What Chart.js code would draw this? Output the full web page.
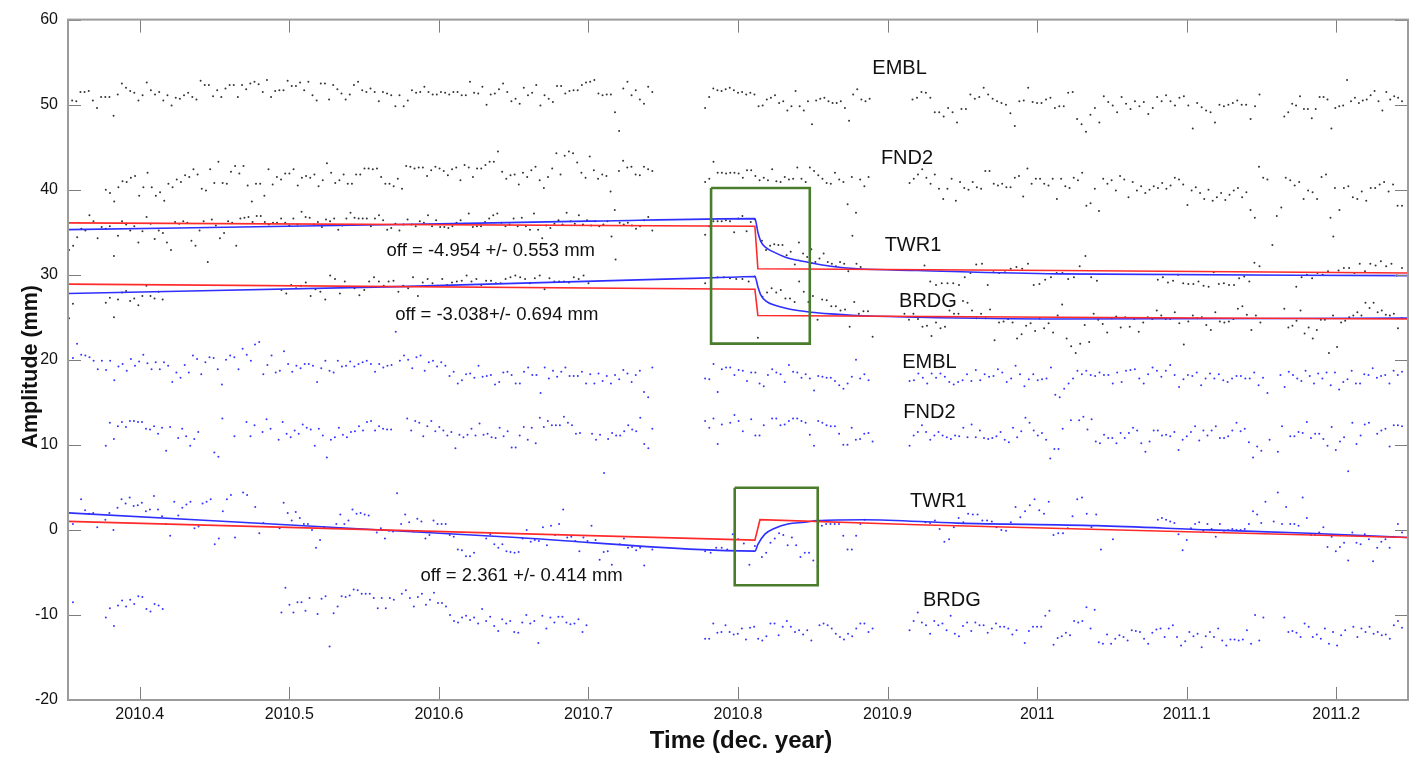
<!DOCTYPE html>
<html>
<head>
<meta charset="utf-8">
<title>Offsets - GPS amplitude time series</title>
<script src="https://cdn.jsdelivr.net/npm/chart.js@4.4.1/dist/chart.umd.min.js"></script>
<style>
  html, body { margin: 0; padding: 0; background: #fff; }
  #wrap { width: 1416px; height: 759px; position: relative; }
</style>
</head>
<body>
<div id="wrap"><canvas id="chart"></canvas></div>
<script>
'use strict';

/* ---- AXES ------------------------------------------------- */
const xTicks = [2010.4, 2010.5, 2010.6, 2010.7, 2010.8, 2010.9, 2011.0, 2011.1, 2011.2];
const xTickLabels = ['2010.4', '2010.5', '2010.6', '2010.7', '2010.8', '2010.9', '2011', '2011.1', '2011.2'];
const yTicks = [-20, -10, 0, 10, 20, 30, 40, 50, 60];

/* ---- DAILY SOLUTIONS: [from, to, values] per data block ---- */
// upper group (black)
const emblBlack = [
  [2010.352, 2010.7427, [50.0, 50.5, 50.4, 51.5, 51.5, 51.6, 50.5, 49.6, 50.9, 50.9, 50.9, 48.7, 51.2, 52.5, 52.0, 51.6, 51.4, 50.5, 51.1, 52.6, 51.7, 51.2, 51.5, 50.5, 51.1, 49.9, 50.8, 50.7, 51.1, 51.4, 50.9, 50.6, 52.8, 52.3, 52.3, 51.0, 51.7, 50.9, 51.9, 52.3, 52.3, 50.9, 52.3, 51.8, 52.5, 52.7, 52.4, 51.5, 52.9, 50.9, 51.6, 51.7, 51.7, 52.8, 52.2, 52.2, 52.6, 51.7, 52.7, 51.1, 50.5, 52.5, 52.5, 50.6, 52.3, 51.8, 51.3, 50.6, 51.2, 52.3, 52.7, 51.7, 51.5, 51.9, 51.5, 50.4, 51.5, 51.3, 51.1, 49.8,
    51.1, 49.8, 50.5, 51.7, 51.4, 51.5, 52.1, 51.5, 51.2, 51.2, 51.5, 51.4, 51.2, 51.5, 51.5, 51.1, 51.1, 52.7, 51.4, 51.3, 52.1, 50.0, 51.2, 51.3, 51.8, 52.5, 51.5, 50.4, 50.7, 50.1, 52.0, 51.1, 51.4, 52.3, 49.9, 51.1, 50.7, 50.3, 52.2, 52.2, 51.3, 51.6, 51.7, 51.7, 52.3, 52.6, 52.7, 52.9, 51.3, 51.1, 51.2, 51.2, 49.1, 46.9, 51.9, 52.7, 51.1, 51.7, 50.6, 50.1, 52.1, 51.5]],
  [2010.778, 2010.888, [49.6, 50.9, 51.9, 51.7, 51.6, 51.8, 52.0, 51.7, 51.4, 51.5, 51.2, 51.4, 51.2, 49.8, 49.9, 50.6, 50.8, 51.1, 50.2, 50.4, 49.3, 49.8, 51.6, 49.8, 49.3, 50.4, 47.7, 50.5, 50.7, 50.8, 50.4, 50.2, 50.2, 50.4, 49.6, 48.1, 51.2, 51.8, 50.6, 50.4, 50.7]],
  [2010.9167, 2011.1487, [50.6, 50.8, 51.5, 51.4, 50.8, 49.1, 49.1, 48.6, 49.6, 49.1, 47.9, 49.5, 49.5, 51.2, 50.7, 50.9, 52.0, 51.2, 50.7, 50.4, 50.2, 50.0, 49.0, 47.5, 50.4, 50.5, 52.0, 50.3, 50.2, 50.2, 50.6, 50.8, 49.6,
    49.8, 49.8, 51.4, 51.5, 48.3, 47.7, 46.8, 48.8, 49.6, 47.9, 51.0, 50.3, 49.9, 49.1, 50.9, 50.1, 49.5, 50.4, 49.8, 50.3, 48.9, 49.6, 50.9, 50.4, 51.1, 50.4, 49.9, 50.8, 51.0, 49.9, 47.2, 50.2, 49.7, 49.3, 49.1, 47.9, 50.0, 49.8, 50.0, 50.2, 50.5, 50.0, 50.0, 48.3, 49.8, 51.2]],
  [2011.1653, 2011.244, [48.6, 49.1, 50.1, 49.9, 51.0, 49.5, 49.5, 48.4, 49.5, 50.9, 50.9, 50.6, 47.2, 49.6, 49.8, 49.9, 52.9, 50.4, 50.8, 50.2, 50.5, 50.6, 51.1, 51.6, 50.4, 49.3, 51.5, 50.6, 51.0, 50.8, 50.4]]
];
const fnd2Black = [
  [2010.3773, 2010.7427, [40.0, 39.6, 38.6, 40.3, 41.0, 40.9, 41.4, 41.6, 39.3, 40.3, 42.0, 40.3, 39.3, 39.7, 38.7, 40.7, 40.3, 41.2, 40.9, 41.7, 41.5, 42.4, 41.8, 40.1, 39.9, 42.4, 40.8, 43.3, 40.8, 40.7, 42.1, 42.8, 41.9, 42.8, 40.5, 38.6, 40.7, 40.7, 39.3, 42.4, 40.6, 41.5, 41.2, 41.9, 41.9, 42.4, 40.5, 41.4, 41.6, 41.4, 41.8, 40.4, 41.1, 43.1, 42.0, 40.8, 41.1, 41.8, 40.7, 40.7, 41.8, 41.8, 42.5, 42.5, 42.4, 42.5, 41.5, 40.7, 40.7, 40.4, 41.3, 40.1, 42.8,
    42.7, 42.5, 42.6, 42.6, 41.6, 42.3, 42.7, 42.5, 42.2, 41.7, 42.4, 42.6, 41.1, 42.9, 42.6, 41.5, 42.5, 42.5, 42.9, 43.3, 43.3, 44.5, 42.1, 41.3, 41.7, 41.8, 40.6, 42.0, 41.5, 42.3, 42.7, 41.1, 40.2, 41.5, 42.5, 44.3, 41.8, 44.0, 44.5, 44.3, 43.2, 42.0, 41.4, 43.9, 42.3, 41.3, 41.8, 41.6, 39.8, 37.6, 42.2, 43.4, 42.6, 42.7, 41.8, 41.7, 42.7, 42.4, 42.2]],
  [2010.778, 2010.8873, [40.9, 41.3, 43.3, 42.0, 42.0, 41.9, 42.0, 42.0, 41.9, 41.4, 42.3, 42.3, 41.6, 41.1, 41.4, 41.1, 42.4, 41.0, 40.9, 41.5, 41.2, 41.3, 42.6, 41.3, 40.9, 42.6, 42.2, 41.7, 41.3, 40.8, 40.7, 42.0, 41.2, 40.9, 38.3, 41.5, 37.3, 41.2, 40.4, 41.5]],
  [2010.9147, 2011.154, [40.8, 41.3, 41.8, 42.4, 41.4, 40.7, 41.8, 40.1, 38.9, 40.1, 41.3, 38.7, 40.9, 40.2, 40.0, 40.9, 40.3, 40.1, 42.2, 42.2, 40.7, 40.5, 40.7, 40.3, 40.3, 41.4, 41.6, 39.2, 42.5, 40.7, 41.3, 41.3, 40.7, 40.5, 41.3, 38.9, 41.3,
    40.4, 40.2, 41.4, 41.1, 42.0, 38.1, 38.4, 40.1, 37.5, 41.3, 40.7, 41.1, 39.9, 41.6, 41.2, 39.1, 40.9, 39.9, 40.4, 39.6, 40.0, 40.4, 40.2, 40.8, 40.1, 40.5, 41.4, 41.2, 40.6, 38.2, 39.9, 40.3, 39.6, 38.9, 40.0, 38.7, 39.1, 39.6, 38.8, 39.4, 39.9, 40.2, 39.1, 39.7, 37.6, 36.7, 42.7, 41.4, 41.2]],
  [2011.1573, 2011.244, [33.5, 36.9, 37.9, 41.4, 41.1, 40.5, 40.9, 38.9, 39.9, 39.7, 38.9, 41.5, 41.8, 36.7, 40.2, 37.6, 40.2, 40.4, 39.1, 38.9, 39.8, 38.7, 40.2, 40.2, 40.6, 40.9, 39.8, 40.6, 38.1, 38.1]]
];
const twr1Black = [
  [2010.3527, 2010.7427, [32.9, 33.4, 34.4, 35.4, 35.2, 37.0, 36.3, 34.3, 35.6, 35.4, 35.7, 32.2, 34.6, 36.3, 35.9, 35.2, 35.7, 33.8, 35.1, 36.8, 36.0, 34.2, 35.2, 34.9, 33.8, 32.9, 36.2, 36.0, 36.3, 36.1, 34.0, 33.4, 35.2, 36.3, 31.5, 36.5, 35.8, 34.3, 34.9, 36.3, 36.1, 33.4, 36.6, 36.7, 36.8, 36.2, 36.9, 36.9, 36.2, 35.9, 36.1, 36.1, 36.6, 36.1, 35.8, 36.6, 35.9, 37.4, 36.8, 36.7, 35.9, 36.2, 35.6, 36.5, 36.3, 36.6, 35.3, 35.8, 36.6, 37.3, 36.7, 36.6, 36.6, 36.6, 35.7, 36.6, 37.0, 36.4, 35.3,
    35.5, 36.0, 35.2, 35.9, 36.5, 35.9, 35.7, 36.3, 36.1, 37.0, 35.7, 36.4, 35.6, 35.6, 35.5, 35.7, 36.1, 36.4, 36.0, 37.2, 35.6, 35.7, 35.7, 36.2, 36.6, 37.0, 37.2, 36.1, 35.7, 35.9, 36.6, 35.7, 36.7, 35.7, 35.3, 37.2, 35.3, 34.3, 35.8, 35.5, 36.0, 36.4, 35.9, 37.3, 36.3, 36.0, 37.0, 35.9, 36.4, 35.8, 36.3, 35.7, 35.9, 36.3, 34.5, 31.8, 36.1, 35.9, 36.1, 35.8, 35.4, 35.7, 36.4, 36.8, 35.2]],
  [2010.778, 2010.8113, [34.7, 35.7, 36.3, 36.3, 36.3, 36.4, 36.3, 35.0, 36.6, 36.9, 35.1, 36.2, 36.5]],
  [2010.816, 2010.882, [34.0, 32.9, 33.4, 33.6, 33.5, 33.5, 32.3, 32.7, 31.2, 33.8, 32.5, 32.1, 33.0, 31.5, 31.9, 32.5, 31.5, 31.3, 31.0, 31.5, 31.3, 30.4, 34.6, 31.3, 30.9]],
  [2010.9247, 2011.04, [31.1, 29.2, 28.8, 29.0, 29.0, 29.0, 28.8, 29.7, 30.2, 31.2, 31.3, 28.8, 30.3, 30.2, 30.3, 30.7, 30.9, 30.7, 31.3, 28.8, 28.9, 29.4, 29.7, 30.2, 30.2, 29.5, 29.7, 31.0, 32.2, 29.7, 29.3]],
  [2011.0807, 2011.1487, [29.4, 29.7, 29.1, 29.3, 30.0, 29.0, 28.9, 28.9, 29.2, 28.7, 28.6, 30.3, 28.9, 29.0, 28.8, 28.8, 29.6, 29.8, 29.2, 31.4, 31.0]],
  [2011.1733, 2011.244, [28.6, 29.7, 30.0, 29.6, 30.2, 30.0, 30.4, 34.5, 30.5, 30.8, 30.8, 30.2, 31.3, 30.4, 31.3, 31.1, 31.6, 31.0, 31.3, 29.9, 30.8]]
];
const brdgBlack = [
  [2010.3527, 2010.3553, [24.9, 26.6]],
  [2010.3773, 2010.4153, [26.7, 27.3, 25.0, 27.1, 27.9, 28.1, 26.9, 27.2, 26.4, 27.5, 28.7, 27.5, 27.2, 28.0, 27.1]],
  [2010.4947, 2010.7, [28.2, 27.8, 28.8, 28.4, 28.7, 29.1, 27.5, 28.3, 28.0, 27.1, 29.9, 29.5, 27.8, 29.2, 28.6, 28.4, 27.6, 28.2, 29.2, 29.7, 29.2, 28.7, 29.2, 29.3, 28.0, 28.7, 28.4, 29.7, 27.5, 29.1, 29.5, 29.0, 28.7, 29.5, 28.8, 29.1, 29.2, 29.3, 29.9, 29.2, 29.5, 28.8, 29.3, 29.3, 29.0, 29.0, 29.5, 29.7, 29.9, 29.7, 29.5, 29.0, 29.6, 29.9, 28.3, 29.6, 29.2, 29.2, 29.2, 29.1, 29.7, 29.5, 29.9, 29.0]],
  [2010.778, 2010.8113, [29.0, 29.6, 29.7, 29.7, 29.6, 29.5, 29.5, 29.2, 29.8]],
  [2010.8133, 2010.89, [22.6, 27.4, 27.9, 28.4, 27.9, 28.2, 27.2, 27.2, 26.8, 29.2, 28.0, 26.8, 27.5, 24.7, 27.1, 27.0, 26.3, 26.3, 25.8, 25.9, 23.9, 26.8, 25.4, 25.7, 25.7, 22.7]],
  [2010.9113, 2011.1493, [25.4, 24.7, 25.4, 24.8, 23.9, 24.0, 22.8, 24.4, 23.7, 23.9, 25.8, 25.4, 25.4, 26.9, 26.7, 25.8, 24.9, 25.4, 24.9, 25.9, 22.3, 24.4, 24.5, 24.8, 24.4, 22.5, 23.0, 24.0, 24.3, 23.4, 24.9, 23.7, 24.3, 23.2, 25.2, 26.5, 22.5, 21.6, 20.8, 21.9, 24.1, 22.1, 25.4, 24.7, 24.2, 23.2, 24.9, 25.1, 23.8, 25.0, 23.9, 24.8, 23.3, 24.4, 25.0, 24.8, 25.8, 25.2, 24.8, 24.8, 25.6, 24.3, 21.8, 24.5, 25.2, 24.9, 25.0, 24.1, 23.5, 25.6, 24.5, 24.4, 24.5, 24.8, 26.0, 26.3, 25.3, 23.5, 25.2, 24.4]],
  [2011.1653, 2011.244, [26.0, 23.8, 24.0, 24.6, 25.8, 23.1, 23.8, 22.5, 23.5, 24.7, 24.7, 20.8, 25.2, 21.5, 24.4, 24.6, 25.0, 25.2, 25.6, 25.2, 26.7, 26.1, 26.7, 25.6, 25.8, 25.3, 25.2, 25.4, 23.7, 24.9]]
];

// lower group (blue)
const emblBlue = [
  [2010.3553, 2010.7427, [20.2, 21.9, 20.6, 20.5, 20.3, 19.9, 18.9, 19.9, 18.8, 19.9, 17.6, 19.2, 19.5, 18.7, 20.1, 19.3, 19.8, 20.6, 19.6, 18.9, 19.7, 18.9, 19.7, 19.3, 17.4, 18.5, 17.9, 19.4, 18.5, 20.5, 20.1, 18.3, 19.7, 20.3, 20.2, 18.9, 17.1, 20.0, 20.5, 20.3, 18.9, 21.3, 20.6, 19.9, 21.8, 22.1, 18.3, 19.4, 20.5, 18.5, 18.7, 21.0, 19.5, 18.6, 19.3, 19.0, 19.5, 19.5, 19.3, 17.4, 19.0, 19.9, 18.7, 18.5, 19.9, 19.2, 19.3, 19.8, 19.2, 19.5, 19.7, 19.9, 19.5, 18.6, 19.5, 19.1, 19.3, 19.4, 23.3, 19.9, 20.5, 20.0, 19.0, 20.3, 20.5, 18.7, 19.7, 19.9, 19.2, 19.7, 19.3, 18.1, 18.6, 17.2, 17.6, 18.3, 18.4, 17.9, 19.3, 18.0, 18.1, 18.2, 17.1, 17.4, 18.5, 18.6, 18.2, 17.2,
    17.2, 18.6, 19.1, 18.2, 18.2, 16.1, 19.1, 17.8, 18.7, 18.0, 18.6, 19.1, 18.1, 18.1, 18.1, 18.6, 17.2, 18.3, 17.2, 18.4, 17.5, 18.1, 17.2, 18.2, 17.7, 18.8, 18.4, 17.4, 18.2, 18.7, 16.2, 15.6, 19.1]],
  [2010.778, 2010.8873, [17.8, 17.7, 19.5, 16.2, 18.9, 19.1, 19.1, 18.2, 18.8, 18.7, 17.5, 18.5, 18.5, 17.2, 16.9, 18.2, 18.9, 18.5, 18.3, 17.4, 19.4, 18.6, 18.5, 17.9, 18.3, 17.8, 16.4, 18.1, 18.0, 17.9, 17.9, 17.5, 17.0, 16.6, 17.2, 18.0, 20.0, 17.8, 18.3, 17.6]],
  [2010.9147, 2011.154, [17.5, 17.6, 18.4, 17.9, 17.2, 18.4, 17.9, 18.4, 18.0, 17.4, 17.1, 17.4, 17.6, 18.3, 17.5, 18.8, 17.6, 18.3, 18.0, 18.1, 18.9, 18.5, 17.4, 17.8, 19.3, 18.3, 16.9, 17.7, 18.3, 17.6, 17.7, 17.8, 19.1, 15.9, 15.6, 16.6, 17.2, 17.8, 18.7, 18.3, 18.7, 18.2, 18.1, 18.5, 18.2, 18.2, 17.2, 18.5, 17.4, 18.7, 18.8, 18.9, 17.8, 17.2, 18.3, 19.1, 18.7, 18.0, 18.7, 19.4, 18.2, 16.8, 17.7, 18.2, 18.1, 18.5, 17.0, 17.8, 18.4, 17.8, 18.3, 17.6, 17.4, 17.8, 18.1, 18.1, 17.8, 17.8, 18.5, 17.0, 17.9, 16.1]],
  [2011.1627, 2011.244, [18.2, 16.8, 18.6, 18.2, 17.8, 17.5, 18.7, 18.1, 17.2, 18.4, 17.8, 18.5, 17.0, 18.5, 16.5, 17.4, 17.7, 18.7, 17.2, 17.2, 18.3, 18.2, 19.0, 17.9, 18.1, 18.2, 17.2, 18.7, 18.2, 18.6]]
];
const fnd2Blue = [
  [2010.3773, 2010.7427, [9.9, 12.6, 10.7, 12.2, 12.7, 12.1, 12.8, 12.8, 12.7, 12.7, 11.9, 11.8, 12.2, 11.3, 12.0, 9.3, 12.1, null, 10.8, 11.9, 11.0, 9.9, 10.7, 11.5, null, null, null, 9.1, 8.6, 13.1, null, null, 11.0, null, null, 12.7, 11.0, 12.3, null, 11.5, 13.0, 11.9, null, 10.6, 12.7, 11.3, 10.9, 11.7, 11.3, 12.4, 12.0, 11.8, 9.9, 11.9, 11.1, 8.5, 10.6, 10.9, 12.0, 11.2, 10.9, 11.5, 11.6, 12.2, 11.7, 12.7, 12.8, 11.7, 12.2, 11.9, 11.8, 11.8, null, null, null, 13.1, 11.7, 12.8, 12.6, 11.0, 12.2, 12.8, 11.6, 12.1, 11.7, 11.1, 11.5, 9.6, 11.2, 10.9, 11.2, 11.9, 11.1, 12.5, 11.2, 11.3, 10.9, 10.8, 12.0, 11.0, 11.6, 9.7,
    9.7, 11.1, 12.1, 10.6, 12.0, 10.2, 13.2, 12.1, 12.8, 12.3, 12.3, 12.3, 13.3, 12.6, 12.3, 11.3, 11.4, null, null, 11.3, 10.6, 11.2, 6.7, 10.7, 11.4, 11.1, 11.1, 11.6, 12.3, 11.8, 11.6, 13.2, 10.1, 9.6, 11.9]],
  [2010.778, 2010.89, [12.8, 12.0, 13.1, 10.1, 12.4, null, 12.6, 13.5, 12.8, 11.6, null, 13.0, 11.1, 11.1, 12.3, null, 13.1, 13.1, 12.3, 12.4, 12.8, 13.1, 13.1, 12.8, 12.6, 11.2, 9.9, 12.8, 12.6, 12.3, 12.2, 12.2, 11.3, 10.0, 10.0, 12.0, 10.6, 10.7, 11.3, 11.4, 10.4]],
  [2010.9147, 2011.244, [9.9, 11.1, 11.5, 12.3, 11.5, 10.6, 11.1, 11.5, 11.1, 10.9, 10.7, 11.1, 11.0, 12.0, 10.9, 12.4, 10.9, 11.7, 10.8, 10.7, 10.8, 11.0, 11.5, 10.6, 10.3, 12.0, 10.9, 11.6, 13.2, 12.6, 11.7, 11.1, 11.4, 10.6, 8.4, 9.5, 9.5, 11.9, null, 12.9, null, 12.9, 13.3, 11.8, 13.0, 10.4, 10.2, 11.2, 10.8, 10.8, 10.2, 11.4, 10.8, 11.4, 12.0, 11.7, 10.2, 9.2, 10.4, 11.7, 11.7, 11.1, 11.2, 11.0, 11.5, 9.4, 10.6, 11.0, 11.5, 12.2, 10.5, 11.7, 11.1, 11.7, 12.2, 10.8, 10.8, 11.0, 11.7, 12.6, 11.6, 11.9, 10.3, 8.5, 9.8, 9.3, null, 10.6, null, 9.2, 12.2, null, 11.0, 11.0, 11.5, 11.4, 12.7, 10.8, 11.3, 11.3, 10.7, 9.9, 12.1, 9.4, 10.4, 10.9, 6.9, 12.6, 10.1, 11.1, 12.4, 12.6, null, 11.3, 11.7, 11.9, 9.8, 12.3, 12.3, 12.2]]
];
const twr1Blue = [
  [2010.3553, 2010.7427, [0.7, null, 3.6, 2.3, 1.9, 2.0, 0.3, null, 1.2, 2.0, 0.0, 2.6, 3.6, 3.1, 3.8, 2.8, 2.9, 3.2, 2.2, 2.4, 4.0, 2.4, 1.6, 0.7, -0.7, 3.3, 1.7, 2.6, 3.0, 3.3, 0.2, 0.4, 3.1, 3.3, 3.6, -1.7, -1.0, 2.2, 3.6, 4.1, -0.9, null, 4.4, 4.1, null, 2.7, -0.4, 0.8, null, null, null, 0.2, 3.2, 2.0, 1.1, 2.1, 1.4, 0.7, 0.7, 0.0, -2.1, -1.2, 0.3, null, 0.2, 0.7, 1.8, 0.7, 1.1, 2.4, 1.9, 2.0, 1.8, 1.7, null, -0.3, 0.2, -1.0, -0.1, -0.2, 4.3, 0.7, 1.8, 0.9, -0.2, 1.3, 1.0, -1.0, -0.6, 1.1, 0.7, 0.7, 0.7, -0.6, -0.8, -2.3, -2.4, -3.1, -3.1, -2.7, null, null, -1.0, -0.5, -1.7, -2.1, -1.7, -2.5, -2.6, -2.7,
    -2.6, -1.0, 0.0, -1.4, -1.2, -1.3, 0.3, -1.8, 0.5, -0.6, 0.7, 2.4, -0.9, -0.8, -1.3, -2.5, -0.9, -1.3, 0.5, -1.2, -3.5, -2.6, -2.5, -4.1, null, -1.7, -1.0, -2.1, -2.0, -2.4, -2.1, -4.2, null, -2.3]],
  [2010.778, 2010.8113, [-2.5, -2.7, -2.1, -2.1, -2.3, -0.5, -1.1, -1.6, -4.1, -1.9]],
  [2010.816, 2010.8847, [-3.2, -2.7, -1.5, -1.0, -0.4, -0.6, -1.8, -0.9, -1.8, -3.2, -2.7, -2.7, -3.6, -4.3, 0.5, 0.7, 0.7, 0.7, 0.7, -0.7, -2.3, -2.3, -0.7, 0.7, 1.2]],
  [2010.9253, 2011.0427, [0.9, 0.8, 1.1, 0.1, -1.4, -1.1, 0.3, 1.4, 0.9, 1.9, 1.8, 1.8, 1.1, 1.1, 1.0, 0.3, 0.0, -0.1, 0.9, 2.7, 1.5, 2.2, 2.9, 3.6, 2.3, 1.9, 3.3, -0.6, -0.4, -0.4, 0.2, 1.6, 3.6, 3.8, 1.9, 0.3, 1.8, -2.3]],
  [2011.0507, 2011.0507, [-1.1]],
  [2011.0807, 2011.244, [1.2, 1.4, 1.2, 1.0, 0.8, -0.5, -2.4, -1.2, 0.2, 0.7, 0.9, -0.1, 0.7, 0.1, -0.8, 0.7, -0.1, 0.0, 0.1, 0.0, 0.0, 0.1, 0.7, 2.2, 1.8, 0.8, 3.3, null, 1.0, 4.4, 0.7, 2.7, 0.7, 0.7, 0.5, 3.8, 1.4, -0.6, -0.6, -0.3, 0.3, -2.0, -0.8, -2.5, -2.0, -1.5, -3.6, -0.3, -1.5, -1.7, -0.5, -1.1, -3.7, -2.1, -1.4, -1.1, -2.1, -0.8, 0.7, -0.3]]
];
const brdgBlue = [
  [2010.352, 2010.3553, [-8.4, -8.5]],
  [2010.3773, 2010.4153, [-10.3, -9.2, -11.3, -8.9, -8.3, -9.0, -8.2, -8.7, -7.8, -7.9, -9.3, -9.6, -8.7, -8.9, -9.3]],
  [2010.4947, 2010.6987, [-9.7, -6.8, -8.8, -9.7, -8.5, -8.5, -9.5, -8.0, null, -9.9, -8.1, -7.8, -13.7, -9.8, -9.0, -7.8, -7.9, -7.7, -7.0, -7.1, -7.5, -7.5, -7.5, -8.0, -9.2, -8.0, -9.2, -8.0, -8.2, null, -7.5, -7.1, -8.0, -9.0, -7.9, -7.5, -8.8, -8.2, -7.4, -8.6, -8.6, -9.0, -10.0, -10.7, -10.9, -10.3, -10.1, -10.6, -10.3, -11.0, -9.3, -10.7, -10.2, -11.3, -11.9, -10.5, -11.0, -10.7, -12.0,
    -12.1, -10.9, -10.0, -11.0, -10.7, -13.3, -10.1, -11.6, -10.3, -10.9, -10.2, -10.2, -10.9, -11.1, -11.0, -10.5, -12.0, -11.2]],
  [2010.778, 2010.89, [-12.8, -12.8, -11.0, -12.1, -12.0, -11.2, -12.0, -12.3, -12.2, -11.6, -12.9, -11.5, -11.4, -12.8, -13.0, -12.5, -11.0, -11.0, -12.4, -11.4, -10.7, -11.4, -12.0, -11.8, -12.3, -11.8, -13.0, null, -11.2, -11.0, -11.2, -11.6, -12.2, -12.6, -12.9, -12.2, -12.5, -11.6, -11.0, -11.0, -12.0, -11.6]],
  [2010.9147, 2011.1513, [-11.8, -10.7, -9.7, -10.9, -11.2, -12.2, -10.7, -11.2, -11.0, -11.8, -10.1, -12.2, -12.5, -11.3, -10.9, -11.9, -10.9, -11.2, -11.2, -12.1, -11.6, -11.0, -11.4, -11.4, -11.6, -12.3, -11.8, null, -13.3, -11.9, -11.4, -11.4, -11.4, -10.1, -9.5, -13.5, -12.7, -12.5, -12.1, -12.4, -10.7, -10.9, -10.7, -9.1, -11.6, -9.4, -13.2, -13.4, -12.3, -13.4, -12.8, -12.4, -12.6, -13.0, -11.8, -11.9, -12.0, -12.8, -13.4, -12.1, -11.7, -11.6, -12.6, -11.6, -11.2, -12.6, -13.6, -13.1, -12.0, -12.5, -12.2, -13.8, -12.5, -12.0, -12.6, -11.6, -13.0, -13.6, -12.9, -12.9, -13.0, -12.9, -11.8, -13.4, -10.0, -13.0, -10.3]],
  [2011.1653, 2011.244, [-10.3, -12.0, -11.9, -12.1, -12.6, -11.0, -11.4, -12.6, -12.3, -12.8, -11.6, -13.4, -12.0, -13.6, -12.4, -11.8, null, -11.4, -12.6, -11.6, -12.0, -11.4, -12.2, -12.0, -12.4, -12.3, -12.8, -11.2, -10.7, -11.5]]
];

/* ---- OFFSET MODELS: [year, mm] --------------------------- */
const twr1BlackStep = [[2010.352, 36.1], [2010.8113, 35.7], [2010.8133, 30.7], [2011.0133, 30.5], [2011.248, 30.2]];
const twr1BlackDecay = [[2010.352, 35.3], [2010.5733, 35.9], [2010.7, 36.3], [2010.8113, 36.6], [2010.8133, 35.0], [2010.8153, 33.9], [2010.8187, 33.2], [2010.8247, 32.6], [2010.8313, 32.1], [2010.84, 31.7], [2010.8487, 31.4], [2010.862, 31.0], [2010.88, 30.7], [2010.92, 30.5], [2011.0133, 30.1], [2011.248, 29.9]];
const brdgBlackStep = [[2010.352, 28.9], [2010.8113, 28.3], [2010.8133, 25.2], [2011.0133, 25.0], [2011.248, 24.8]];
const brdgBlackDecay = [[2010.352, 27.8], [2010.5733, 28.6], [2010.7933, 29.7], [2010.8113, 29.8], [2010.8133, 28.6], [2010.8153, 27.6], [2010.8187, 26.9], [2010.8247, 26.4], [2010.8313, 26.1], [2010.84, 25.8], [2010.8487, 25.6], [2010.862, 25.4], [2010.88, 25.2], [2010.92, 25.0], [2011.0133, 24.8], [2011.248, 24.9]];
const twr1BlueStep = [[2010.352, 1.0], [2010.8113, -1.2], [2010.8147, 1.2], [2010.92, 0.6], [2011.248, -0.9]];
const twr1BlueDecay = [[2010.352, 2.0], [2010.652, -0.9], [2010.8113, -2.5], [2010.8133, -1.7], [2010.818, -0.5], [2010.8247, 0.2], [2010.8333, 0.7], [2010.8447, 0.9], [2010.8533, 1.1], [2010.8847, 1.2], [2010.9467, 0.8], [2011.04, 0.5], [2011.1153, 0.0], [2011.182, -0.4], [2011.248, -0.9]];

/* ---- HIGHLIGHT BOXES: [fromYear, toYear, lowMm, highMm] --- */
const boxes = [[2010.782, 2010.848, 21.9, 40.2], [2010.7978, 2010.8533, -6.5, 4.95]];

/* ---- ANNOTATIONS ------------------------------------------ */
const stationNames = ['EMBL', 'FND2', 'TWR1', 'BRDG', 'EMBL', 'FND2', 'TWR1', 'BRDG'];
const stationX = [2010.908, 2010.913, 2010.917, 2010.927, 2010.928, 2010.928, 2010.934, 2010.943];
const stationY = [54.2, 43.7, 33.4, 26.9, 19.7, 13.8, 3.3, -8.3];
const offTexts = ['off = -4.954 +/- 0.553 mm', 'off = -3.038+/- 0.694 mm', 'off = 2.361 +/- 0.414 mm'];
const offX = [2010.6347, 2010.6387, 2010.6553];
const offY = [32.8, 25.3, -5.4];

const FONT = "'Liberation Sans', Arial, Helvetica, sans-serif";
const BLACK_DOT = '#333333';
const BLUE_DOT = '#3636ff';
const RED = '#ff2a2a';
const BLUE = '#2f2fff';
const GREEN = '#4a7d2b';

/* ---- HELPERS ---------------------------------------------- */
function blockPoints(blocks) {
  const pts = [];
  blocks.forEach(([from, to, vals]) => {
    const n = vals.length;
    vals.forEach((v, k) => {
      if (v === null) return;
      pts.push({ x: n > 1 ? from + (to - from) * k / (n - 1) : from, y: v });
    });
  });
  return pts;
}
const pairs = arr => arr.map(([x, y]) => ({ x, y }));

function dots(label, blocks, color) {
  return {
    label, data: blockPoints(blocks), showLine: false, order: 3,
    pointRadius: 1.0, pointHoverRadius: 0, pointBorderWidth: 0,
    backgroundColor: color, borderColor: color
  };
}
function model(label, arr, color, smooth) {
  return {
    label, data: pairs(arr), showLine: true, order: 1,
    borderColor: color, borderWidth: 1.6, pointRadius: 0, fill: false,
    tension: 0, cubicInterpolationMode: smooth ? 'monotone' : 'default'
  };
}
function box(label, [x0, x1, y0, y1]) {
  return {
    label, data: pairs([[x0, y1], [x1, y1], [x1, y0], [x0, y0], [x0, y1]]),
    showLine: true, order: 0, borderColor: GREEN, borderWidth: 2.6,
    pointRadius: 0, fill: false, tension: 0
  };
}

/* ---- FRAME, INWARD TICKS, TEXTS --------------------------- */
const framePlugin = {
  id: 'frameAndText',
  afterDatasetsDraw(chart) {
    const { ctx, chartArea: a, scales: { x, y } } = chart;
    ctx.save();
    ctx.strokeStyle = '#7d7d7d';
    ctx.lineWidth = 1;
    ctx.beginPath();
    xTicks.forEach(t => {
      const px = Math.round(x.getPixelForValue(t)) + 0.5;
      ctx.moveTo(px, a.bottom); ctx.lineTo(px, a.bottom - 13);
      ctx.moveTo(px, a.top); ctx.lineTo(px, a.top + 13);
    });
    yTicks.forEach(t => {
      const py = Math.round(y.getPixelForValue(t)) + 0.5;
      ctx.moveTo(a.left, py); ctx.lineTo(a.left + 13, py);
      ctx.moveTo(a.right, py); ctx.lineTo(a.right - 13, py);
    });
    ctx.stroke();
    ctx.strokeStyle = '#9c9c9c';
    ctx.lineWidth = 2;
    ctx.strokeRect(a.left, a.top, a.right - a.left, a.bottom - a.top);

    ctx.fillStyle = '#111';
    ctx.textAlign = 'center';
    ctx.textBaseline = 'middle';
    ctx.font = '20px ' + FONT;
    stationNames.forEach((s, i) => ctx.fillText(s, x.getPixelForValue(stationX[i]), y.getPixelForValue(stationY[i])));
    ctx.font = '18.5px ' + FONT;
    offTexts.forEach((s, i) => ctx.fillText(s, x.getPixelForValue(offX[i]), y.getPixelForValue(offY[i])));

    // axis titles
    ctx.font = 'bold 24px ' + FONT;
    ctx.fillText('Time (dec. year)', (a.left + a.right) / 2 + 3, 741);
    ctx.translate(31, (a.top + a.bottom) / 2 + 7);
    ctx.rotate(-Math.PI / 2);
    ctx.font = 'bold 21.5px ' + FONT;
    ctx.fillText('Amplitude (mm)', 0, 0);
    ctx.restore();
  }
};

/* ---- CHART ------------------------------------------------ */
new Chart(document.getElementById('chart'), {
  type: 'scatter',
  data: {
    datasets: [
      dots('EMBL', emblBlack, BLACK_DOT),
      dots('FND2', fnd2Black, BLACK_DOT),
      dots('TWR1', twr1Black, BLACK_DOT),
      dots('BRDG', brdgBlack, BLACK_DOT),
      dots('EMBL corr.', emblBlue, BLUE_DOT),
      dots('FND2 corr.', fnd2Blue, BLUE_DOT),
      dots('TWR1 corr.', twr1Blue, BLUE_DOT),
      dots('BRDG corr.', brdgBlue, BLUE_DOT),
      model('TWR1 step', twr1BlackStep, RED, false),
      model('TWR1 decay', twr1BlackDecay, BLUE, true),
      model('BRDG step', brdgBlackStep, RED, false),
      model('BRDG decay', brdgBlackDecay, BLUE, true),
      model('TWR1 corr. step', twr1BlueStep, RED, false),
      model('TWR1 corr. decay', twr1BlueDecay, BLUE, true),
      box('window 1', boxes[0]),
      box('window 2', boxes[1])
    ]
  },
  options: {
    responsive: true,
    maintainAspectRatio: false,
    animation: false,
    devicePixelRatio: 1,
    layout: { padding: { top: 17, right: 8, left: 0, bottom: 0 } },
    plugins: { legend: { display: false }, tooltip: { enabled: false } },
    events: [],
    scales: {
      x: {
        type: 'linear', min: 2010.352, max: 2011.248,
        afterBuildTicks: axis => { axis.ticks = xTicks.map(value => ({ value })); },
        ticks: {
          autoSkip: false, maxRotation: 0, padding: 5, color: '#111',
          font: { family: FONT, size: 16 },
          callback: (v, i) => xTickLabels[i]
        },
        grid: { display: false, drawTicks: false },
        border: { display: false },
        afterFit: s => { s.height = 59; }
      },
      y: {
        min: -20, max: 60,
        afterBuildTicks: axis => { axis.ticks = yTicks.map(value => ({ value })); },
        ticks: { padding: 10, color: '#111', font: { family: FONT, size: 16 } },
        grid: { display: false, drawTicks: false },
        border: { display: false },
        afterFit: s => { s.width = 68; }
      }
    }
  },
  plugins: [framePlugin]
});
</script>
</body>
</html>
